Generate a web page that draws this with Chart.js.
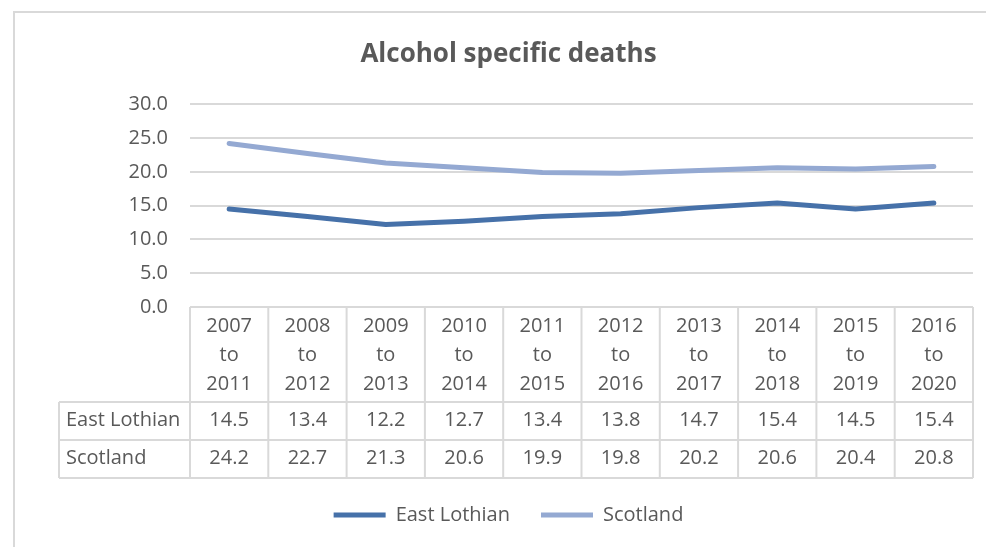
<!DOCTYPE html>
<html>
<head>
<meta charset="utf-8">
<script src="https://cdn.jsdelivr.net/npm/chart.js@4/dist/chart.umd.min.js"></script>
<style>
  html, body { margin: 0; padding: 0; background: #ffffff; }
  #wrap { width: 986px; height: 547px; position: relative; }
</style>
</head>
<body>
<div id="wrap"><canvas id="chart" width="986" height="547"></canvas></div>
<script>
// Five-year rolling periods (each drawn as three stacked lines in the table header)
const periods = [
  ["2007", "to", "2011"], ["2008", "to", "2012"], ["2009", "to", "2013"],
  ["2010", "to", "2014"], ["2011", "to", "2015"], ["2012", "to", "2016"],
  ["2013", "to", "2017"], ["2014", "to", "2018"], ["2015", "to", "2019"],
  ["2016", "to", "2020"]
];
const eastLothian = [14.5, 13.4, 12.2, 12.7, 13.4, 13.8, 14.7, 15.4, 14.5, 15.4];
const scotland    = [24.2, 22.7, 21.3, 20.6, 19.9, 19.8, 20.2, 20.6, 20.4, 20.8];
const seriesNames = ["East Lothian", "Scotland"];
const yMin = 0, yMax = 30, yStep = 5;

const FONT = "'Open Sans', 'DejaVu Sans', sans-serif";
const TEXT = "#595959";
const RULE = "#d9d9d9";

// Table geometry below the plot area
const TABLE = { headerH: 95, rowH: 38, labelLeft: 59, lineGap: 29 };

// Outer frame around the whole chart
const framePlugin = {
  id: "frame",
  beforeDraw(chart) {
    const ctx = chart.ctx;
    ctx.save();
    ctx.fillStyle = "#ffffff";
    ctx.fillRect(0, 0, chart.width, chart.height);
    ctx.strokeStyle = "#d9d9d9";
    ctx.lineWidth = 2;
    ctx.strokeRect(14, 12, chart.width + 20, chart.height + 20);
    ctx.restore();
  }
};

// Data table drawn under the category axis, columns aligned with the x scale
const dataTablePlugin = {
  id: "dataTable",
  afterDraw(chart) {
    const ctx = chart.ctx;
    const xs = chart.scales.x;
    const area = chart.chartArea;
    const n = xs.getLabels().length;
    const left = area.left, right = area.right;
    const step = (right - left) / n;
    const top = area.bottom;
    const hdrBottom = top + TABLE.headerH;
    const r1Bottom = hdrBottom + TABLE.rowH;
    const r2Bottom = r1Bottom + TABLE.rowH;

    ctx.save();
    ctx.strokeStyle = RULE;
    ctx.lineWidth = 2;
    ctx.beginPath();
    // horizontal rules
    ctx.moveTo(left, top); ctx.lineTo(right, top);
    [hdrBottom, r1Bottom, r2Bottom].forEach(y => {
      ctx.moveTo(TABLE.labelLeft, y); ctx.lineTo(right, y);
    });
    // vertical rules
    ctx.moveTo(TABLE.labelLeft, hdrBottom); ctx.lineTo(TABLE.labelLeft, r2Bottom);
    for (let k = 0; k <= n; k++) {
      const x = left + k * step;
      ctx.moveTo(x, top); ctx.lineTo(x, r2Bottom);
    }
    ctx.stroke();

    ctx.fillStyle = TEXT;
    ctx.font = "20px " + FONT;
    ctx.textBaseline = "middle";
    ctx.textAlign = "center";
    xs.getLabels().forEach((lbl, i) => {
      const cx = xs.getPixelForValue(i);
      lbl.forEach((line, j) => {
        ctx.fillText(line, cx, top + 19 + j * TABLE.lineGap);
      });
    });
    chart.data.datasets.forEach((ds, r) => {
      const cy = hdrBottom + TABLE.rowH * r + TABLE.rowH / 2 - 1;
      ctx.textAlign = "left";
      ctx.fillText(ds.label, TABLE.labelLeft + 7, cy);
      ctx.textAlign = "center";
      ds.data.forEach((v, i) => {
        ctx.fillText(v.toFixed(1), xs.getPixelForValue(i), cy);
      });
    });
    ctx.restore();
  }
};

new Chart(document.getElementById("chart"), {
  type: "line",
  data: {
    labels: periods,
    datasets: [
      {
        label: seriesNames[0],
        data: eastLothian,
        borderColor: "#4671a9",
        backgroundColor: "#4671a9",
        borderWidth: 5,
        borderCapStyle: "round",
        borderJoinStyle: "round",
        pointRadius: 0,
        pointHoverRadius: 0,
        tension: 0
      },
      {
        label: seriesNames[1],
        data: scotland,
        borderColor: "#94a9d2",
        backgroundColor: "#94a9d2",
        borderWidth: 5,
        borderCapStyle: "round",
        borderJoinStyle: "round",
        pointRadius: 0,
        pointHoverRadius: 0,
        tension: 0
      }
    ]
  },
  options: {
    responsive: false,
    animation: false,
    events: [],
    layout: { padding: { left: 44, right: 13, top: 0, bottom: 12 } },
    plugins: {
      title: {
        display: true,
        text: "Alcohol specific deaths",
        color: TEXT,
        font: { family: FONT, size: 26, weight: "bold" },
        padding: { top: 39, bottom: 34 }
      },
      legend: {
        position: "bottom",
        labels: {
          color: TEXT,
          font: { family: FONT, size: 20 },
          usePointStyle: true,
          pointStyle: "line",
          pointStyleWidth: 52,
          padding: 31
        }
      },
      tooltip: { enabled: false }
    },
    scales: {
      x: {
        type: "category",
        offset: true,
        grid: { display: false, drawTicks: false },
        border: { display: false },
        ticks: { display: false },
        afterFit(scale) { scale.height = TABLE.headerH + TABLE.rowH * 2 - 4; }
      },
      y: {
        min: yMin,
        max: yMax,
        ticks: {
          stepSize: yStep,
          color: TEXT,
          font: { family: FONT, size: 20 },
          padding: 22,
          callback: v => Number(v).toFixed(1)
        },
        grid: { color: RULE, lineWidth: 2, drawTicks: false },
        border: { display: false },
        afterFit(scale) { scale.width = 146; }
      }
    }
  },
  plugins: [framePlugin, dataTablePlugin]
});
</script>
</body>
</html>
